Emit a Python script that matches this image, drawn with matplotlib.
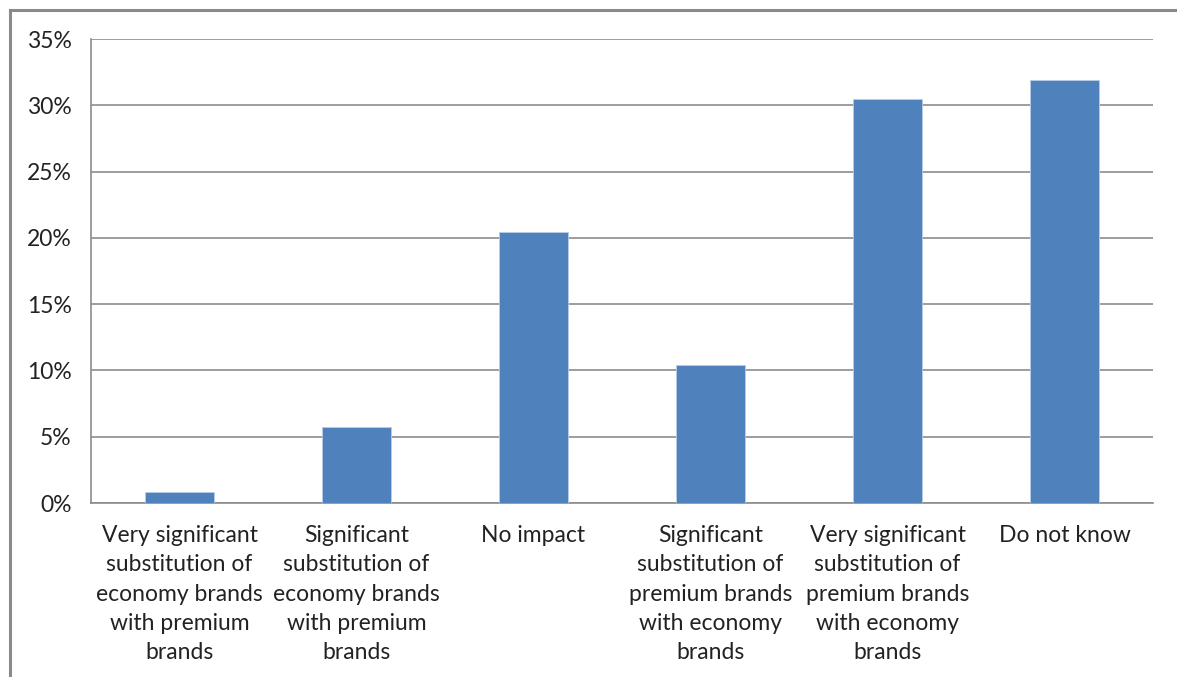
import numpy as np
import matplotlib.pyplot as plt
from matplotlib.ticker import PercentFormatter
from matplotlib.lines import Line2D

# data
categories = ['Very significant\nsubstitution of\neconomy brands\nwith premium\nbrands',
              'Significant\nsubstitution of\neconomy brands\nwith premium\nbrands',
              'No impact',
              'Significant\nsubstitution of\npremium brands\nwith economy\nbrands',
              'Very significant\nsubstitution of\npremium brands\nwith economy\nbrands',
              'Do not know']
values = [0.85, 5.7, 20.45, 10.4, 30.45, 31.9]
yticks = [0, 5, 10, 15, 20, 25, 30, 35]

plt.rcParams['font.family'] = ['Lato', 'DejaVu Sans']

W, H = 1177, 677
fig = plt.figure(figsize=(W/100, H/100), dpi=100)
ax = fig.add_axes([91/W, 1-503/H, (1153-91)/W, (503-39)/H])

x = np.arange(len(categories))
ax.bar(x, values, width=0.395, color='#4f81bd', edgecolor='#b9cde5', linewidth=0.6, zorder=3)

ax.set_xlim(-0.5, len(categories)-0.5)
ax.set_ylim(0, 35)
ax.set_yticks(yticks)
ax.yaxis.set_major_formatter(PercentFormatter(decimals=0))
ax.grid(axis='y', color='#8c8c8c', linewidth=1.2, zorder=0)
ax.set_xticks(x)
ax.set_xticklabels(categories, linespacing=1.48)
ax.tick_params(axis='both', length=0, labelsize=16.5, colors='#222222')
ax.tick_params(axis='y', pad=14)
ax.tick_params(axis='x', pad=16)
for s in ['top', 'right']:
    ax.spines[s].set_visible(False)
for s in ['left', 'bottom']:
    ax.spines[s].set_color('#8c8c8c')
    ax.spines[s].set_linewidth(1.2)

# outer chart frame (left and top edges visible)
fig.add_artist(Line2D([10/W, 10/W], [0, 1-10/H], color='#8a8a8a', linewidth=2.2))
fig.add_artist(Line2D([10/W, 1], [1-10/H, 1-10/H], color='#8a8a8a', linewidth=2.2))

plt.savefig('out.png', dpi=100)
